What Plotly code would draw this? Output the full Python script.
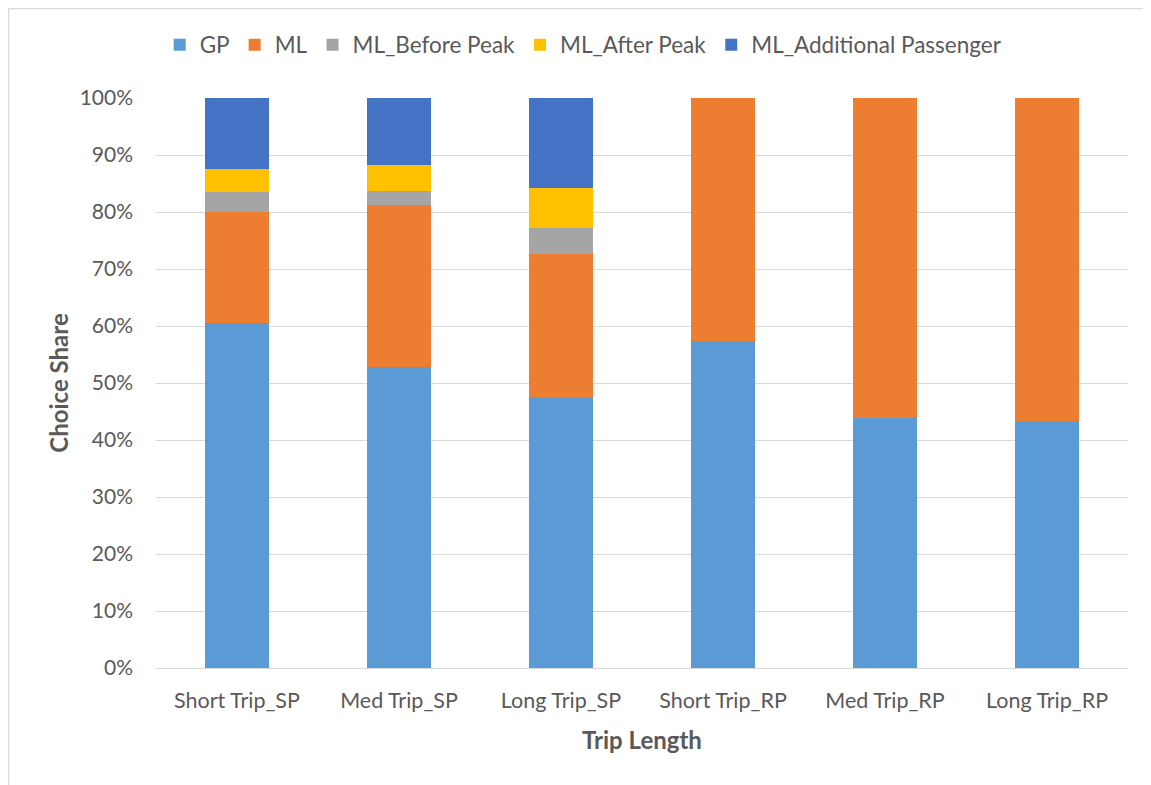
import plotly.graph_objects as go

categories = ["Short Trip_SP", "Med Trip_SP", "Long Trip_SP",
              "Short Trip_RP", "Med Trip_RP", "Long Trip_RP"]
gp = [60.5, 52.8, 47.3, 57.3, 43.8, 43.4]
ml = [19.5, 28.4, 25.3, 42.7, 56.2, 56.6]
ml_before_peak = [3.5, 2.5, 4.6, 0, 0, 0]
ml_after_peak = [4.0, 4.5, 7.0, 0, 0, 0]
ml_additional = [12.5, 11.8, 15.8, 0, 0, 0]

series = [
    ("GP", gp, "#5B9BD5"),
    ("ML", ml, "#ED7D31"),
    ("ML_Before Peak", ml_before_peak, "#A5A5A5"),
    ("ML_After Peak", ml_after_peak, "#FFC000"),
    ("ML_Additional Passenger", ml_additional, "#4472C4"),
]

FONT = "Lato"
TXT = "#595959"

# page body has an 8px margin; figure sized so the plot lands where the reference's does
W, H = 1143, 777
ML_, MT_, MR_, MB_ = 148, 90, 23, 117
PW = W - ML_ - MR_
PH = H - MT_ - MB_

fig = go.Figure()
for name, vals, color in series:
    fig.add_trace(go.Bar(
        x=categories, y=vals, name=name,
        marker=dict(color=color, line=dict(width=0)),
    ))

fig.update_layout(
    barmode="stack",
    bargap=0.6,
    width=W, height=H,
    margin=dict(l=ML_, r=MR_, t=MT_, b=MB_),
    paper_bgcolor="white",
    plot_bgcolor="white",
    font=dict(family=FONT, size=21, color=TXT),
    legend=dict(
        orientation="h",
        x=0.44, xanchor="center",
        y=1 + (MT_ - 37) / PH, yanchor="middle",
        font=dict(family=FONT, size=22.5, color=TXT),
        itemwidth=30,
        traceorder="normal",
    ),
    xaxis=dict(
        showgrid=False,
        showline=False,
        ticks="",
        ticklabelstandoff=17,
        tickfont=dict(family=FONT, size=21.5, color=TXT),
        title=dict(text="<b>Trip Length</b>", standoff=20,
                   font=dict(family=FONT, size=24, color=TXT)),
    ),
    yaxis=dict(
        range=[0, 100],
        dtick=10,
        ticksuffix="%",
        showgrid=True,
        gridcolor="#D9D9D9",
        gridwidth=1,
        zeroline=True,
        zerolinecolor="#D9D9D9",
        zerolinewidth=1,
        ticks="",
        ticklabelstandoff=22,
        tickfont=dict(family=FONT, size=21, color=TXT),
        title=dict(text="<b>Choice Share</b>", standoff=4,
                   font=dict(family=FONT, size=24, color=TXT)),
    ),
)

# chart-area border (top and left edges visible in reference)
top_y = 1 + (MT_ - 0.5) / PH
left_x = (0.5 - ML_) / PW
fig.add_shape(type="line", xref="paper", yref="paper",
              x0=left_x, x1=1.2, y0=top_y, y1=top_y,
              line=dict(color="#D9D9D9", width=1.5))
fig.add_shape(type="line", xref="paper", yref="paper",
              x0=left_x, x1=left_x, y0=top_y, y1=-0.5,
              line=dict(color="#D9D9D9", width=1.5))

fig.write_html("out.html")
